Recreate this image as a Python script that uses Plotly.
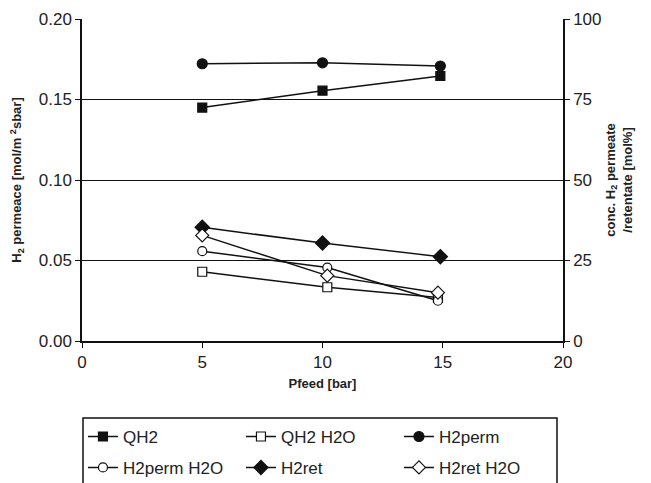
import plotly.graph_objects as go

# ---- data ----
pfeed = [5, 10, 14.9]
pfeed_h2o = [5, 10.2, 14.8]
qh2 = [0.145, 0.1555, 0.1646]
qh2_h2o = [0.043, 0.0334, 0.027]
h2perm = [86.1, 86.4, 85.4]
h2perm_h2o = [27.9, 22.8, 12.5]
h2ret = [35.3, 30.4, 26.2]
h2ret_h2o = [32.8, 20.3, 15.0]

x_ticks = [0, 5, 10, 15, 20]
y_ticks = [0.0, 0.05, 0.10, 0.15, 0.20]
y_ticklabels = ["0.00", "0.05", "0.10", "0.15", "0.20"]
y2_ticks = [0, 25, 50, 75, 100]

FONT = "Liberation Sans, Arial, sans-serif"
BLACK = "#111111"

series = [
    # name, x, y, axis, symbol, fill, size, legend
    ("QH2", pfeed, qh2, "y", "square", BLACK, 9, "legend"),
    ("QH2 H2O", pfeed_h2o, qh2_h2o, "y", "square", "white", 9, "legend"),
    ("H2perm", pfeed, h2perm, "y2", "circle", BLACK, 10, "legend"),
    ("H2perm H2O", pfeed_h2o, h2perm_h2o, "y2", "circle", "white", 9, "legend2"),
    ("H2ret", pfeed, h2ret, "y2", "diamond", BLACK, 11, "legend2"),
    ("H2ret H2O", pfeed_h2o, h2ret_h2o, "y2", "diamond", "white", 10, "legend2"),
]

fig = go.Figure()
for name, xs, ys, ax, sym, fill, size, leg in series:
    fig.add_trace(go.Scatter(
        x=xs, y=ys, name=name, yaxis=ax, mode="lines+markers",
        line=dict(color=BLACK, width=1.5),
        marker=dict(symbol=sym, size=size, color=fill,
                    line=dict(color=BLACK, width=1.2)),
        legend=leg,
    ))

axis_common = dict(
    showline=True, linecolor=BLACK, linewidth=1.5,
    ticks="outside", ticklen=5, tickcolor=BLACK, tickwidth=1,
    tickfont=dict(family=FONT, size=17, color="#222222"),
    zeroline=False,
)

fig.update_layout(
    width=643, height=475,
    paper_bgcolor="white", plot_bgcolor="white",
    margin=dict(l=74, r=88, t=11, b=142, autoexpand=False),
    font=dict(family=FONT, color="#222222"),
    showlegend=True,
    xaxis=dict(
        range=[0, 20], tickvals=x_ticks, showgrid=False,
        title=dict(text="Pfeed [bar]", font=dict(family=FONT, size=13, weight="bold"), standoff=8),
        **axis_common,
    ),
    yaxis=dict(
        range=[0, 0.20], tickvals=y_ticks, ticktext=y_ticklabels,
        showgrid=True, gridcolor=BLACK, gridwidth=1,
        title=dict(text="H<sub>2</sub> permeace [mol/m <sup>2</sup>sbar]",
                   font=dict(family=FONT, size=13, weight="bold"), standoff=18),
        **axis_common,
    ),
    yaxis2=dict(
        range=[0, 100], tickvals=y2_ticks, overlaying="y", side="right",
        showgrid=False,
        title=dict(text="conc. H<sub>2</sub> permeate<br>/retentate [mol%]",
                   font=dict(family=FONT, size=13, weight="bold"), standoff=5),
        **axis_common,
    ),
    legend=dict(
        orientation="h", x=0.002, xanchor="left", y=-0.298, yanchor="middle",
        entrywidth=113, entrywidthmode="pixels", bgcolor="rgba(0,0,0,0)",
        borderwidth=0, font=dict(family=FONT, size=17, color="#222222"),
        traceorder="normal",
    ),
    legend2=dict(
        orientation="h", x=0.002, xanchor="left", y=-0.394, yanchor="middle",
        entrywidth=113, entrywidthmode="pixels", bgcolor="rgba(0,0,0,0)",
        borderwidth=0, font=dict(family=FONT, size=17, color="#222222"),
        traceorder="normal",
    ),
    shapes=[dict(
        type="rect", xref="paper", yref="paper",
        x0=(83 - 82) / 481, x1=(557 - 82) / 481,
        y0=-(500 - 341) / 322, y1=-(418 - 341) / 322,
        line=dict(color=BLACK, width=1.5), fillcolor="rgba(0,0,0,0)",
        layer="above",
    )],
)

fig.write_html("out.html")
